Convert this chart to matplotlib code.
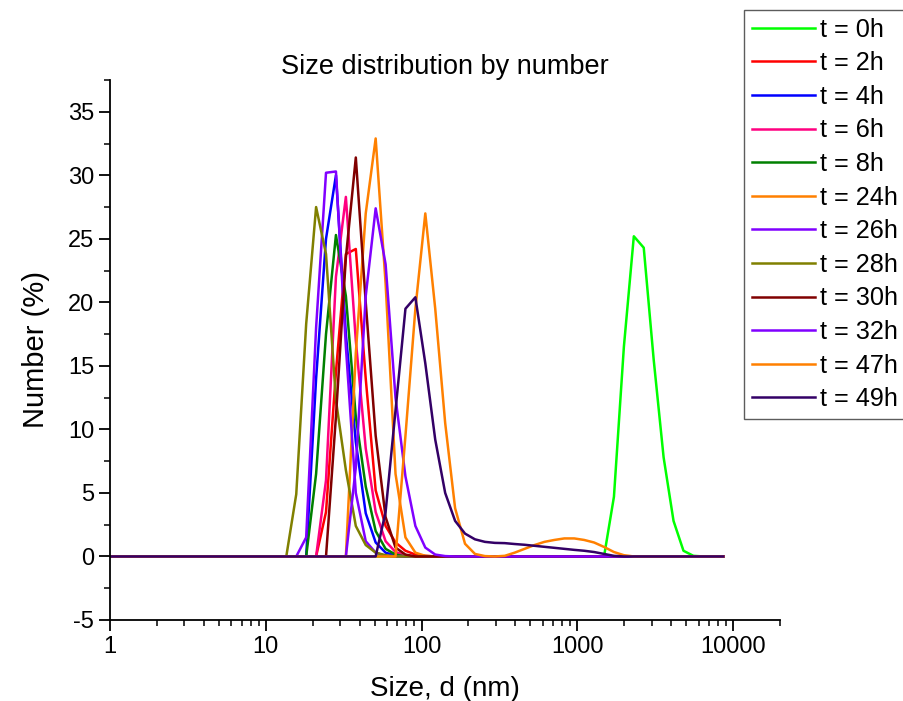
import matplotlib
matplotlib.use("Agg")
import matplotlib.pyplot as plt
import matplotlib.ticker as mticker
import numpy as np

plt.rcParams['font.family'] = ['Liberation Sans', 'DejaVu Sans']
plt.rcParams['axes.unicode_minus'] = False

# size bins (nm) of the instrument
sizes = [0.4, 0.4632, 0.5365, 0.6213, 0.7195, 0.8332, 0.9649, 1.117, 1.294, 1.499,
         1.736, 2.010, 2.328, 2.696, 3.122, 3.615, 4.187, 4.849, 5.615, 6.503,
         7.531, 8.721, 10.10, 11.70, 13.54, 15.69, 18.17, 21.04, 24.36, 28.21,
         32.67, 37.84, 43.82, 50.75, 58.77, 68.06, 78.82, 91.28, 105.7, 122.4,
         141.8, 164.2, 190.1, 220.2, 255.0, 295.3, 342.0, 396.1, 458.7, 531.2,
         615.1, 712.4, 825.0, 955.4, 1106, 1281, 1484, 1718, 1990, 2305,
         2669, 3091, 3580, 4145, 4801, 5560, 6439, 7456, 8635]

# number % per bin, starting at the given bin, zero elsewhere
t0h_from, t0h = 1484, [0, 4.7, 16.5, 25.2, 24.3, 15.5, 7.8, 2.8, 0.45, 0.05]
t2h_from, t2h = 21.04, [0, 3.5, 14.5, 23.8, 24.2, 14.0, 5.2, 2.4, 1.1, 0.45, 0.15, 0.05]
t4h_from, t4h = 18.17, [0, 14.0, 25.0, 30.0, 17.5, 9.0, 3.4, 1.1, 0.3, 0.08]
t6h_from, t6h = 21.04, [0, 6.0, 22.0, 28.3, 17.0, 8.5, 3.5, 1.2, 0.35, 0.1]
t8h_from, t8h = 18.17, [0, 6.5, 17.5, 25.3, 20.5, 11.0, 5.5, 2.0, 0.6, 0.15]
t24h_from, t24h = 32.67, [0, 16.0, 27.0, 32.9, 21.5, 6.5, 1.5, 0.3, 0.05]
t26h_from, t26h = 15.69, [0, 1.5, 18.0, 30.2, 30.3, 16.5, 5.0, 1.2, 0.3, 0.05]
t28h_from, t28h = 13.54, [0, 4.9, 18.3, 27.5, 23.8, 12.3, 6.8, 2.4, 0.9, 0.3, 0.1]
t30h_from, t30h = 24.36, [0, 11.0, 23.5, 31.4, 20.0, 9.5, 3.1, 0.7, 0.15]
t32h_from, t32h = 32.67, [0, 7.0, 20.5, 27.4, 23.0, 12.5, 6.3, 2.4, 0.7, 0.15, 0.03]
t47h_from, t47h = 68.06, [0, 9.5, 19.5, 27.0, 19.5, 10.5, 3.8, 1.0, 0.2, 0.03, 0,
                          0.05, 0.3, 0.6, 0.9, 1.15, 1.3, 1.42, 1.42, 1.3, 1.1,
                          0.75, 0.35, 0.1]
t49h_from, t49h = 50.75, [0, 3.5, 11.5, 19.5, 20.4, 15.2, 9.2, 5.0, 2.8, 1.8, 1.35,
                          1.15, 1.07, 1.05, 0.98, 0.92, 0.84, 0.76, 0.68, 0.6, 0.52,
                          0.45, 0.35, 0.2, 0.05]

labels = ['t = 0h', 't = 2h', 't = 4h', 't = 6h', 't = 8h', 't = 24h',
          't = 26h', 't = 28h', 't = 30h', 't = 32h', 't = 47h', 't = 49h']
starts = [t0h_from, t2h_from, t4h_from, t6h_from, t8h_from, t24h_from,
          t26h_from, t28h_from, t30h_from, t32h_from, t47h_from, t49h_from]
series = [t0h, t2h, t4h, t6h, t8h, t24h, t26h, t28h, t30h, t32h, t47h, t49h]
colors = ['#00ff00', '#ff0000', '#0000ff', '#ff0080', '#008000', '#ff8000',
          '#8000ff', '#808000', '#800000', '#8000ff', '#ff8000', '#330066']


def full_curve(first, values):
    """Pad a partial distribution with zeros over all bins."""
    y = np.zeros(len(sizes))
    i = sizes.index(first)
    y[i:i + len(values)] = values
    return y


fig = plt.figure(figsize=(9.04, 7.01), dpi=100)
ax = fig.add_axes([110 / 904, 1 - 620 / 701, 670 / 904, 540 / 701])

for first, vals, col, lab in zip(starts, series, colors, labels):
    ax.plot(sizes, full_curve(first, vals), color=col, lw=1.8, label=lab)

ax.set_xscale('log')
ax.set_xlim(1, 20000)
ax.set_ylim(-5, 37.5)
ax.xaxis.set_major_locator(mticker.LogLocator(base=10, numticks=10))
ax.xaxis.set_major_formatter(mticker.FuncFormatter(lambda v, p: f'{v:g}'))
ax.xaxis.set_minor_locator(mticker.LogLocator(base=10, subs=np.arange(2, 10), numticks=20))
ax.xaxis.set_minor_formatter(mticker.NullFormatter())
ax.yaxis.set_major_locator(mticker.MultipleLocator(5))
ax.yaxis.set_minor_locator(mticker.MultipleLocator(2.5))

for side in ['top', 'right']:
    ax.spines[side].set_visible(False)
for side in ['left', 'bottom']:
    ax.spines[side].set_linewidth(1.3)

ax.tick_params(which='major', direction='out', length=8, width=1.3, labelsize=17)
ax.tick_params(which='minor', direction='out', length=4.5, width=1.1)

ax.set_xlabel('Size, d (nm)', fontsize=20, labelpad=13)
ax.set_ylabel('Number (%)', fontsize=21, labelpad=13)
ax.set_title('Size distribution by number', fontsize=19.5, pad=-1)

leg = fig.legend(loc='upper left', bbox_to_anchor=(744 / 904, 1 - 10 / 701),
                 fontsize=18.2, frameon=True, fancybox=False, handlelength=2.5,
                 handletextpad=0.22, labelspacing=0.38, borderpad=0.3,
                 borderaxespad=0)
leg.get_frame().set_edgecolor('#333333')
leg.get_frame().set_linewidth(1.0)

fig.savefig('out.png', dpi=100)
